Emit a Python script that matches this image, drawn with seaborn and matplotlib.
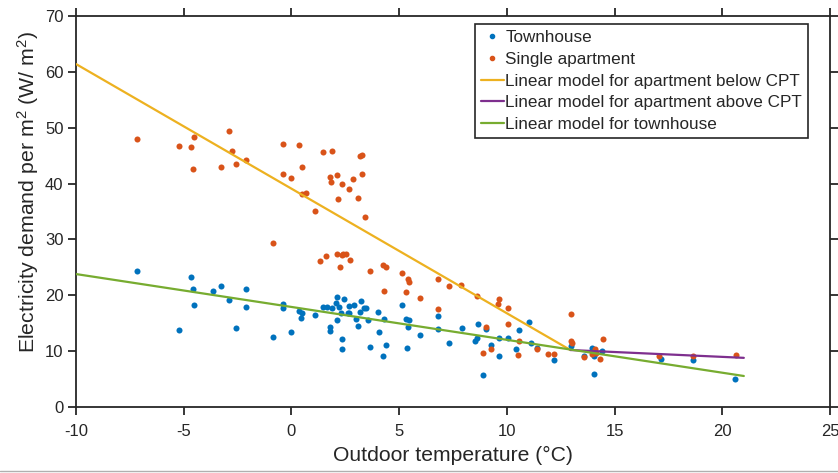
import matplotlib
matplotlib.use("Agg")
import matplotlib.pyplot as plt
import seaborn as sns
import pandas as pd
from matplotlib.lines import Line2D

# ---- data ----
town_x = [-7.17, -4.68, -4.55, -4.54, -5.20, -3.63, -3.28, -2.90, -2.11, -2.11, -2.57, -0.84,
          -0.40, -0.39, -0.02, 0.35, 0.48, 0.45, 1.08, 1.48, 1.64, 1.90, 2.10, 2.07, 2.20, 2.43,
          2.29, 2.61, 2.69, 2.69, 2.89, 2.10, 1.81, 1.81, 2.33, 2.33, 3.22, 3.37, 3.46, 3.18,
          2.98, 3.11, 3.54, 4.02, 4.07, 3.66, 4.38, 4.25, 4.30, 5.13, 5.30, 5.46, 5.41, 5.35,
          5.99, 6.81, 6.81, 7.33, 7.90, 8.51, 8.60, 8.66, 9.02, 9.25, 9.62, 9.64, 10.04, 10.58,
          10.41, 11.05, 11.12, 11.42, 12.19, 8.91, 12.98, 13.60, 13.97, 14.05, 14.03, 14.42,
          17.16, 18.63, 20.60]
town_y = [24.4, 23.3, 21.1, 18.3, 13.8, 20.8, 21.7, 19.2, 21.1, 17.9, 14.1, 12.5,
          18.4, 17.7, 13.4, 17.2, 16.9, 15.9, 16.5, 17.9, 17.9, 17.8, 19.7, 18.6, 17.9, 19.3,
          16.9, 16.9, 16.8, 18.1, 18.3, 15.6, 14.3, 13.6, 12.1, 10.4, 19.0, 17.7, 17.8, 17.0,
          15.7, 14.5, 15.6, 17.0, 13.5, 10.7, 11.1, 9.1, 15.7, 18.3, 15.7, 15.6, 14.4, 10.6,
          12.9, 16.3, 14.0, 11.4, 14.1, 11.8, 12.4, 14.9, 13.9, 11.1, 12.3, 9.1, 12.4, 13.8,
          10.4, 15.3, 11.5, 10.6, 8.4, 5.8, 11.0, 9.1, 10.5, 9.1, 5.9, 10.0,
          8.6, 8.5, 5.0]

apt_x = [-7.17, -5.20, -4.54, -4.68, -4.57, -2.90, -2.74, -3.28, -2.59, -2.11, -0.40, -0.39,
         -0.02, 0.35, 1.48, 1.90, 3.18, 3.26, 0.48, 1.79, 1.82, 2.10, 2.33, 2.87, 2.66, 3.29,
         0.48, 0.68, 2.18, 3.11, 1.10, 3.42, -0.84, 1.33, 1.62, 2.10, 2.33, 2.41, 2.53, 2.71,
         2.27, 3.66, 4.25, 4.39, 5.13, 5.41, 5.45, 4.30, 5.30, 5.99, 6.81, 7.33, 7.87, 8.63,
         6.81, 9.62, 9.59, 10.04, 9.02, 10.04, 12.97, 8.91, 9.25, 10.58, 10.52, 11.42, 11.90,
         12.19, 12.98, 13.01, 13.60, 13.94, 14.11, 14.13, 14.34, 14.47, 17.08, 18.63, 20.63]
apt_y = [48.0, 46.8, 48.4, 46.5, 42.6, 49.4, 45.9, 43.0, 43.5, 44.2, 47.1, 41.7,
         41.0, 46.9, 45.6, 45.9, 44.9, 45.2, 42.9, 41.1, 40.3, 41.5, 40.0, 40.9, 39.1, 41.8,
         38.1, 38.3, 37.2, 37.4, 35.1, 34.1, 29.4, 26.1, 27.0, 27.4, 27.3, 27.4, 27.4, 26.4,
         25.1, 24.4, 25.5, 25.1, 24.0, 23.0, 22.4, 20.8, 20.5, 19.5, 22.9, 21.6, 21.8, 19.9,
         17.5, 19.4, 18.5, 17.8, 14.4, 14.9, 16.7, 9.7, 10.3, 11.8, 9.3, 10.3, 9.5,
         9.5, 11.8, 11.4, 9.0, 9.5, 10.3, 9.7, 8.6, 12.1, 9.1, 9.1, 9.3]

# linear model end points
apt_below_x = [-10.0, 12.95]
apt_below_y = [61.4, 10.2]
apt_above_x = [12.95, 21.0]
apt_above_y = [10.2, 8.8]
town_model_x = [-10.0, 21.0]
town_model_y = [23.8, 5.55]

labels = ["Townhouse", "Single apartment", "Linear model for apartment below CPT",
          "Linear model for apartment above CPT", "Linear model for townhouse"]
x_ticks = [-10, -5, 0, 5, 10, 15, 20, 25]
y_ticks = [0, 10, 20, 30, 40, 50, 60, 70]

# ---- style ----
sns.set_style("ticks")
plt.rcParams["font.family"] = ["Liberation Sans", "DejaVu Sans"]
plt.rcParams["mathtext.default"] = "regular"

c_blue, c_orange = "#0072BD", "#D95319"
c_yellow, c_purple, c_green = "#EDB120", "#7E2F8E", "#77AC30"

fig = plt.figure(figsize=(8.38, 4.73), dpi=100)
ax = fig.add_axes([76 / 838, 1 - 407 / 473, 754 / 838, 391 / 473])

town_df = pd.DataFrame({"t": town_x, "e": town_y})
apt_df = pd.DataFrame({"t": apt_x, "e": apt_y})
sns.scatterplot(data=town_df, x="t", y="e", ax=ax, color=c_blue, s=19, linewidth=0, zorder=3)
sns.scatterplot(data=apt_df, x="t", y="e", ax=ax, color=c_orange, s=19, linewidth=0, zorder=3)

sns.lineplot(x=apt_below_x, y=apt_below_y, ax=ax, color=c_yellow, lw=1.6, zorder=4)
sns.lineplot(x=apt_above_x, y=apt_above_y, ax=ax, color=c_purple, lw=1.6, zorder=4)
sns.lineplot(x=town_model_x, y=town_model_y, ax=ax, color=c_green, lw=1.6, zorder=4)

ax.set_xlim(-10, 25)
ax.set_ylim(0, 70)
ax.set_xticks(x_ticks)
ax.set_yticks(y_ticks)
ax.set_xticklabels([str(v) for v in x_ticks])
ax.set_yticklabels([str(v) for v in y_ticks])

for s in ax.spines.values():
    s.set_visible(True)
    s.set_color("#262626")
    s.set_linewidth(1.3)
ax.tick_params(axis="both", which="both", direction="out", length=6, width=1.3,
               color="#262626", labelsize=12, labelcolor="#262626",
               top=True, right=True, labeltop=False, labelright=False, pad=3)
ax.tick_params(axis="x", pad=6)

ax.set_xlabel("Outdoor temperature (°C)", fontsize=15.2, color="#262626", labelpad=5)
ax.set_ylabel("Electricity demand per m$^{2}$ (W/ m$^{2}$)", fontsize=15.3, color="#262626")
ax.yaxis.set_label_coords(-0.047, 0.55)

handles = [
    Line2D([], [], marker="o", ls="none", color=c_blue, markersize=3),
    Line2D([], [], marker="o", ls="none", color=c_orange, markersize=3),
    Line2D([], [], color=c_yellow, lw=1.6),
    Line2D([], [], color=c_purple, lw=1.6),
    Line2D([], [], color=c_green, lw=1.6),
]
leg = ax.legend(handles, labels, loc="upper right",
                bbox_to_anchor=((808 - 76) / 754, (407 - 24) / 391),
                borderaxespad=0, fontsize=12.3, frameon=True, fancybox=False,
                edgecolor="#262626", handlelength=1.3, handletextpad=0.1,
                borderpad=0.35, labelspacing=0.4)
leg.get_frame().set_linewidth(1.2)
leg.get_frame().set_alpha(1)

fig.add_artist(Line2D([0, 1], [2 / 473, 2 / 473], color="#b0b0b0", lw=1.0, transform=fig.transFigure))

fig.savefig("out.png", dpi=100)
